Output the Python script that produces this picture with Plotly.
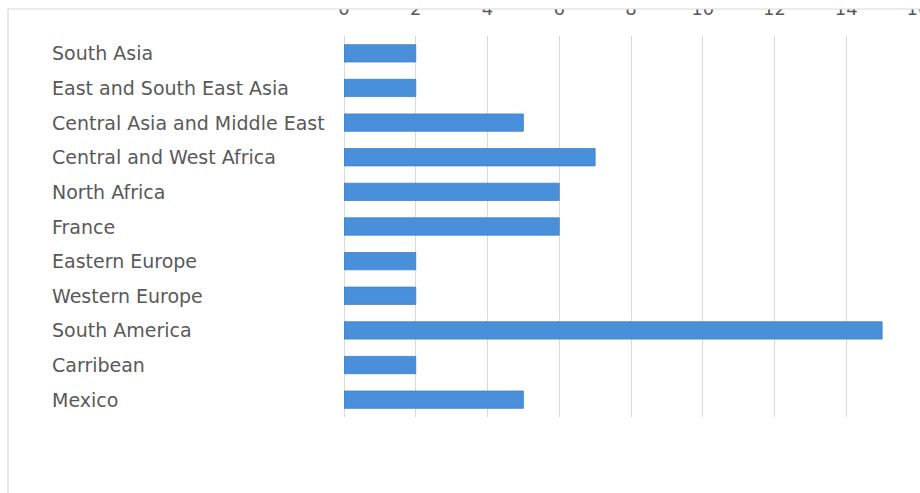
import plotly.graph_objects as go

categories = ["South Asia", "East and South East Asia", "Central Asia and Middle East",
              "Central and West Africa", "North Africa", "France", "Eastern Europe",
              "Western Europe", "South America", "Carribean", "Mexico"]
values = [2, 2, 5, 7, 6, 6, 2, 2, 15, 2, 5]
tick_vals = [0, 2, 4, 6, 8, 10, 12, 14, 16]

W, H = 920, 493
L, R, T, B = 344, 2, 36, 76
pw = W - L - R
ph = H - T - B

def px_x(x):
    return (x - L) / pw

def px_y(y):
    return (H - B - y) / ph

fig = go.Figure()
fig.add_trace(go.Bar(
    x=values, y=categories, orientation="h",
    marker=dict(color="#4a8fda", line=dict(color="#3f7fc4", width=0.8)),
    width=0.5, hoverinfo="skip",
))

font_family = "DejaVu Sans, sans-serif"

annotations = []
for c in categories:
    annotations.append(dict(
        x=px_x(50), xref="paper", y=c, yref="y",
        text=c, showarrow=False, xanchor="left", yanchor="middle",
        font=dict(family=font_family, size=19, color="#595959"),
    ))

shapes = [
    dict(type="rect", xref="paper", yref="paper",
         x0=px_x(-5), x1=px_x(W + 5), y0=px_y(9), y1=px_y(-5),
         fillcolor="white", line=dict(width=0), layer="above"),
    dict(type="line", xref="paper", yref="paper",
         x0=px_x(8), x1=px_x(W + 5), y0=px_y(9), y1=px_y(9),
         line=dict(color="#d9d9d9", width=1.2), layer="above"),
    dict(type="line", xref="paper", yref="paper",
         x0=px_x(8), x1=px_x(8), y0=px_y(9), y1=px_y(H + 5),
         line=dict(color="#d9d9d9", width=1.2), layer="above"),
]

fig.update_layout(
    width=W, height=H,
    margin=dict(l=L, r=R, t=T, b=B, pad=0, autoexpand=False),
    paper_bgcolor="white", plot_bgcolor="white",
    showlegend=False,
    bargap=0.5,
    xaxis=dict(
        side="top", range=[0, 16], tickvals=tick_vals,
        showgrid=True, gridcolor="#d9d9d9", gridwidth=1.2,
        zeroline=True, zerolinecolor="#d9d9d9", zerolinewidth=1.2,
        showline=False, automargin=False,
        ticks="outside", ticklen=13, tickcolor="rgba(0,0,0,0)",
        ticklabeloverflow="allow",
        tickfont=dict(family=font_family, size=18, color="#595959"),
        fixedrange=True,
    ),
    yaxis=dict(
        categoryorder="array", categoryarray=categories,
        autorange="reversed", showticklabels=False, automargin=False,
        showgrid=False, zeroline=False, showline=False, ticks="",
        fixedrange=True,
    ),
    annotations=annotations,
    shapes=shapes,
)

fig.write_html("out.html")
